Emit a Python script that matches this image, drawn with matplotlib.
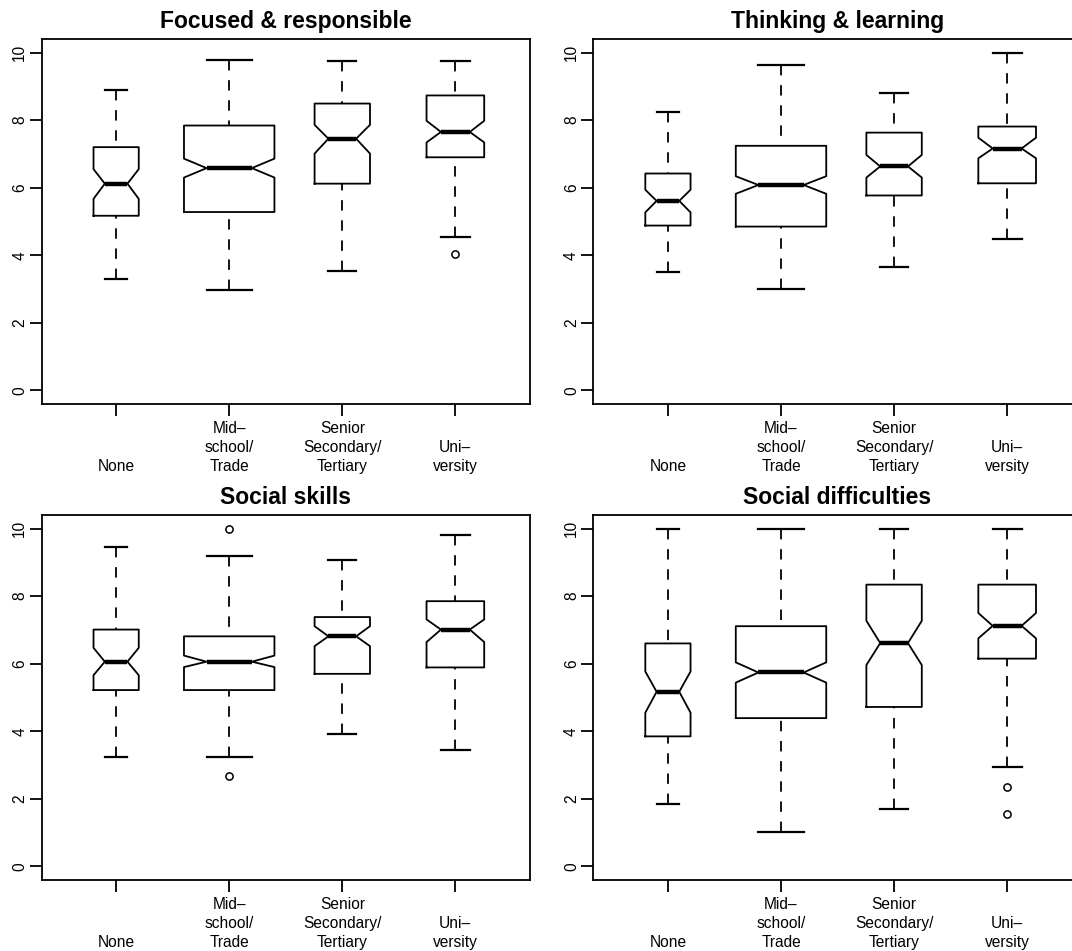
import matplotlib
matplotlib.use("Agg")
import matplotlib.pyplot as plt

plt.rcParams["font.family"] = ["Liberation Sans", "DejaVu Sans"]
plt.rcParams["lines.scale_dashes"] = False

# Education groups (x axis)
group_lines = [["None"], ["Mid\u2013", "school/", "Trade"],
               ["Senior", "Secondary/", "Tertiary"], ["Uni\u2013", "versity"]]
# Relative box widths (proportional to sqrt of group size)
group_widths = [0.40, 0.80, 0.49, 0.51]

titles = ["Focused & responsible", "Thinking & learning",
          "Social skills", "Social difficulties"]

# Five-number summaries per panel: [lower whisker, Q1, median, Q3, upper whisker]
focused_stats = [[3.30, 5.17, 6.12, 7.20, 8.88],
                 [2.98, 5.28, 6.58, 7.84, 9.78],
                 [3.54, 6.12, 7.45, 8.49, 9.75],
                 [4.55, 6.90, 7.65, 8.73, 9.75]]
thinking_stats = [[3.50, 4.88, 5.61, 6.42, 8.25],
                  [3.00, 4.85, 6.08, 7.24, 9.62],
                  [3.64, 5.77, 6.63, 7.63, 8.81],
                  [4.47, 6.13, 7.16, 7.81, 10.00]]
social_stats = [[3.25, 5.22, 6.06, 7.01, 9.44],
                [3.25, 5.22, 6.06, 6.81, 9.19],
                [3.93, 5.70, 6.81, 7.38, 9.06],
                [3.44, 5.89, 7.01, 7.85, 9.82]]
difficulty_stats = [[1.85, 3.85, 5.17, 6.60, 10.00],
                    [1.01, 4.39, 5.74, 7.11, 10.00],
                    [1.71, 4.72, 6.61, 8.34, 10.00],
                    [2.93, 6.15, 7.12, 8.34, 10.00]]

# Notch limits (lower, upper) around each median
focused_notch = [[5.67, 6.55], [6.30, 6.86], [7.01, 7.86], [7.34, 7.98]]
thinking_notch = [[5.27, 5.94], [5.82, 6.34], [6.30, 6.97], [6.87, 7.48]]
social_notch = [[5.66, 6.47], [5.90, 6.24], [6.52, 7.11], [6.64, 7.31]]
difficulty_notch = [[4.55, 5.77], [5.44, 6.04], [5.96, 7.27], [6.75, 7.50]]

# Outlying points
focused_out = [[], [], [], [4.05]]
thinking_out = [[], [], [], []]
social_out = [[], [10.0, 2.69], [], []]
difficulty_out = [[], [], [], [2.36, 1.55]]

panels = [
    (focused_stats, focused_notch, focused_out),
    (thinking_stats, thinking_notch, thinking_out),
    (social_stats, social_notch, social_out),
    (difficulty_stats, difficulty_notch, difficulty_out),
]

W, H = 1072, 951
fig = plt.figure(figsize=(W / 100, H / 100), dpi=100)

ax_w, ax_h = 488.5, 365.0
lefts = [41.5, 593.3]
tops = [39.0, 515.0]

nlines = max(len(l) for l in group_lines)
xlabels = ["\n" * (nlines - len(l)) + "\n".join(l) for l in group_lines]

lw = 1.3
for k, (stats, notch, outs) in enumerate(panels):
    r, c = divmod(k, 2)
    ax = fig.add_axes([lefts[c] / W, 1 - (tops[r] + ax_h) / H, ax_w / W, ax_h / H])
    bxp_stats = []
    for s, n, o in zip(stats, notch, outs):
        bxp_stats.append(dict(whislo=s[0], q1=s[1], med=s[2], q3=s[3], whishi=s[4],
                              cilo=n[0], cihi=n[1], fliers=o))
    art = ax.bxp(bxp_stats, positions=[1, 2, 3, 4], widths=group_widths,
                 shownotches=True, showfliers=True, patch_artist=False,
                 boxprops=dict(color="black", linewidth=lw),
                 whiskerprops=dict(color="black", linewidth=lw,
                                   linestyle=(0, (7.5, 7.0))),
                 capprops=dict(color="black", linewidth=lw + 0.3),
                 medianprops=dict(color="black", linewidth=3.2, solid_capstyle="butt"),
                 flierprops=dict(marker="o", markersize=5.2, markerfacecolor="none",
                                 markeredgecolor="black", markeredgewidth=1.1,
                                 linestyle="none"))
    # whiskers run from the extreme toward the hinge
    for wl in art["whiskers"]:
        wl.set_data(wl.get_xdata()[::-1], wl.get_ydata()[::-1])

    ax.set_xlim(0.34, 4.66)
    ax.set_ylim(-0.4, 10.4)
    ax.set_yticks([0, 2, 4, 6, 8, 10])
    ax.set_yticklabels(["0", "2", "4", "6", "8", "10"], rotation=90, va="center")
    ax.set_xticks([1, 2, 3, 4])
    ax.set_xticklabels(xlabels, linespacing=1.35)
    ax.tick_params(axis="both", length=8.8, width=lw, labelsize=11.2, color="black")
    ax.tick_params(axis="y", pad=1.5)
    ax.tick_params(axis="x", pad=3.5)
    for sp in ax.spines.values():
        sp.set_linewidth(lw)
    ax.set_title(titles[k], fontsize=16.5, fontweight="bold", pad=8)

fig.savefig("out.png", dpi=100)
